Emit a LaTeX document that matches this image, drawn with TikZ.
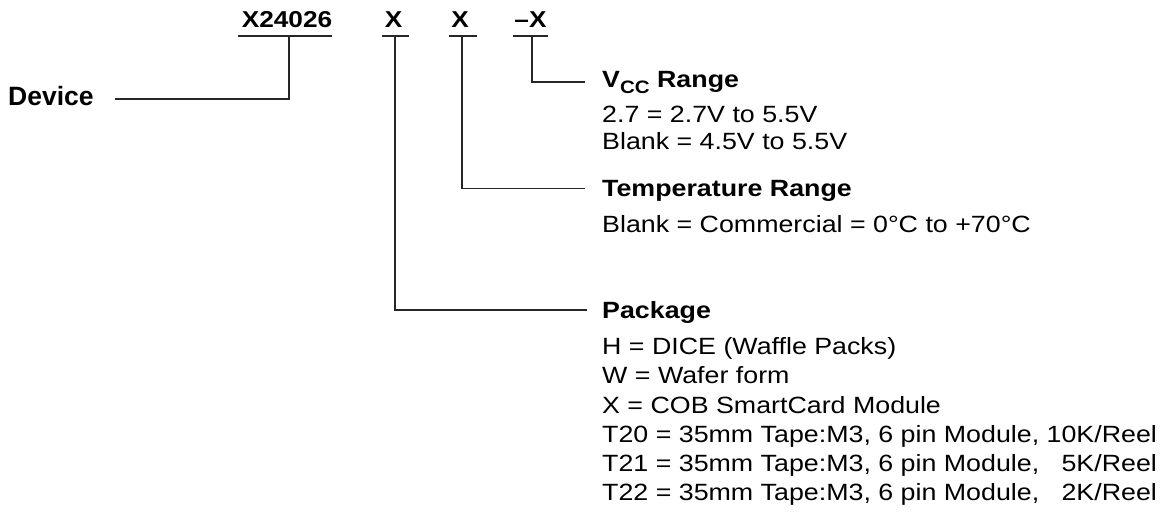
\documentclass[tikz,border=0pt]{standalone}
\usepackage{fontspec}
\setmainfont{Liberation Sans}
\newfontfamily\bodyfont[FakeStretch=1.14]{Liberation Sans}
\begin{document}
\begin{tikzpicture}[x=1bp,y=-1bp,
  txt/.style={inner sep=0pt,anchor=base west,font=\bodyfont\fontsize{23.5bp}{27bp}\selectfont},
  hd/.style={inner sep=0pt,anchor=base west,font=\bodyfont\bfseries\fontsize{23.5bp}{27bp}\selectfont},
  top/.style={inner sep=0pt,anchor=base,font=\bodyfont\bfseries\fontsize{23bp}{27bp}\selectfont},
  ln/.style={line width=1.3bp,black!85}]
\useasboundingbox (0,0) rectangle (1168,529);
% part number header
\node[top] (h0) at (287,27.5) {X24026};
\node[top] (h1) at (393.5,27.5) {X};
\node[top] (h2) at (460,27.5) {X};
\node[top] (h3) at (530.5,27.5) {–X};
\draw[ln] (238,36) -- (332,36);
\draw[ln] (382,36) -- (409,36);
\draw[ln] (449,36) -- (477,36);
\draw[ln] (513,36) -- (548,36);
\coordinate (u0) at (289,36);
\coordinate (u1) at (395,36);
\coordinate (u2) at (462,36);
\coordinate (u3) at (532,36);
% device
\node[inner sep=0pt,anchor=base west,font=\bfseries\fontsize{26.5bp}{30bp}\selectfont] (dev) at (8,106) {Device};
\coordinate (devR) at (115,99);
% legends
\node[hd] (vcc) at (602,88) {V\raisebox{-6bp}{\fontsize{18bp}{19bp}\selectfont CC} Range};
\node[txt] (v1) at (602,123) {2.7 = 2.7V to 5.5V};
\node[txt] (v2) at (602,150) {Blank = 4.5V to 5.5V};
\coordinate (vccL) at (585,82);
\node[hd] (tmp) at (602,196.5) {Temperature Range};
\node[txt] (t1) at (602,233) {Blank = Commercial = 0°C to +70°C};
\coordinate (tmpL) at (585,188.5);
\node[hd] (pkg) at (602,319) {Package};
\coordinate (pkgL) at (587,310);
\node[txt] (p1) at (602,355) {H = DICE (Waffle Packs)};
\node[txt] (p2) at (602,384) {W = Wafer form};
\node[txt] (p3) at (602,413) {X = COB SmartCard Module};
\node[txt] (p4) at (602,442) {T20 = 35mm Tape:M3, 6 pin Module, 10K/Reel};
\node[txt] (p5) at (602,471) {T21 = 35mm Tape:M3, 6 pin Module, \hphantom{1}5K/Reel};
\node[txt] (p6) at (602,500) {T22 = 35mm Tape:M3, 6 pin Module, \hphantom{1}2K/Reel};
% connectors
\draw[ln] (u0) |- (devR);
\draw[ln] (u1) |- (pkgL);
\draw[ln] (u2) |- (tmpL);
\draw[ln] (u3) |- (vccL);
\end{tikzpicture}
\end{document}
